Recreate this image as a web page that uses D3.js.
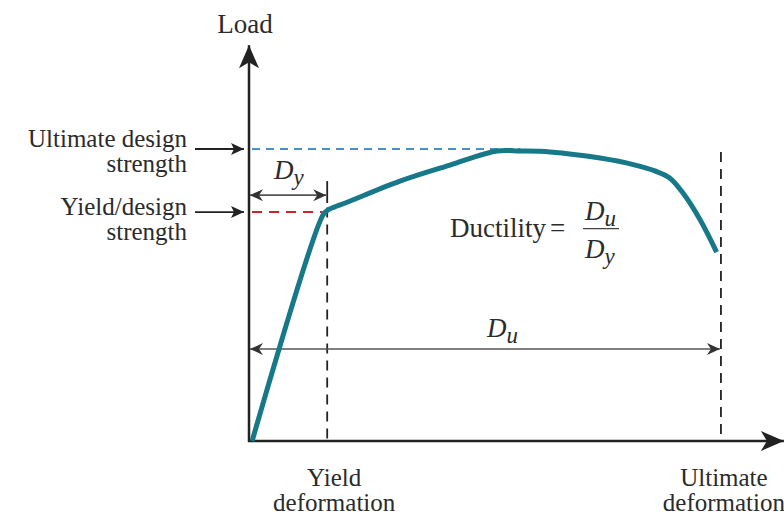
<!DOCTYPE html>
<html>
<head>
<meta charset="utf-8">
<script src="https://cdn.jsdelivr.net/npm/d3@7"></script>
<style>
  body { margin: 0; background: #fff; }
  text { font-family: "Liberation Serif", "DejaVu Serif", serif; fill: #2b2b2b; }
</style>
</head>
<body>
<div id="plot"></div>
<script>
let svgWidth = 784;
let svgHeight = 518;

// load–deformation curve
// deformation in units of yield deformation, load in units of ultimate strength
let deformation = [0.04, 0.946, 1.01, 1.09, 1.23, 1.93, 2.57, 3.17, 3.47, 3.85, 4.49, 4.94, 5.19, 5.38, 5.55, 5.77, 5.98];
let load        = [0,    0.774, 0.791, 0.801, 0.815, 0.890, 0.945, 0.993, 0.993, 0.990, 0.969, 0.945, 0.925, 0.901, 0.849, 0.757, 0.647];

// reference levels
let yieldDeformation = 1.0;
let ultimateDeformation = 6.035;
let yieldLoad = 0.784;
let ultimateLoad = 1.0;
let axisEnds = { x: 6.84, y: 1.355 };

// labels
let yLabels = [["Ultimate design", "strength"], ["Yield/design", "strength"]];
let xLabels = [["Yield", "deformation"], ["Ultimate", "deformation"]];

let curve = deformation.map((d, i) => ({ def: d, load: load[i] }));

let x = d3.scaleLinear().domain([0, 1]).range([249, 327.2]);
let y = d3.scaleLinear().domain([0, 1]).range([441, 149]);

let svg = d3.select('#plot')
  .append('svg')
    .attr('width', svgWidth)
    .attr('height', svgHeight);

let defs = svg.append('defs');

// big axis arrowhead
defs.append('marker')
    .attr('id', 'axisHead')
    .attr('markerUnits', 'userSpaceOnUse')
    .attr('viewBox', '-24 -11 26 22')
    .attr('markerWidth', 26).attr('markerHeight', 22)
    .attr('refX', 0).attr('refY', 0)
    .attr('orient', 'auto')
  .append('path')
    .attr('d', 'M0,0L-23,-10L-17,0L-23,10Z')
    .attr('fill', '#222');

// pointer arrowhead for the strength labels
defs.append('marker')
    .attr('id', 'pointHead')
    .attr('markerUnits', 'userSpaceOnUse')
    .attr('viewBox', '-14 -7 15 14')
    .attr('markerWidth', 15).attr('markerHeight', 14)
    .attr('refX', 0).attr('refY', 0)
    .attr('orient', 'auto')
  .append('path')
    .attr('d', 'M0,0L-13,-6L-10,0L-13,6Z')
    .attr('fill', '#222');

// dimension arrowheads (both ends)
defs.append('marker')
    .attr('id', 'dimHead')
    .attr('markerUnits', 'userSpaceOnUse')
    .attr('viewBox', '-14 -7 15 14')
    .attr('markerWidth', 15).attr('markerHeight', 14)
    .attr('refX', 0).attr('refY', 0)
    .attr('orient', 'auto-start-reverse')
  .append('path')
    .attr('d', 'M0,0L-13,-6L-9,0L-13,6Z')
    .attr('fill', '#333');

// reference dashed lines
svg.append('line')
    .attr('x1', x(0) + 3).attr('x2', x(3.47))
    .attr('y1', y(ultimateLoad)).attr('y2', y(ultimateLoad))
    .attr('stroke', '#4592c8').attr('stroke-width', 2)
    .attr('stroke-dasharray', '8,6');

svg.append('line')
    .attr('x1', x(0) + 3).attr('x2', x(0.94))
    .attr('y1', y(yieldLoad)).attr('y2', y(yieldLoad))
    .attr('stroke', '#c9252f').attr('stroke-width', 2)
    .attr('stroke-dasharray', '10,7');

// yield deformation: short solid tick on top, dashed below
svg.append('line')
    .attr('x1', x(yieldDeformation)).attr('x2', x(yieldDeformation))
    .attr('y1', y(0.89)).attr('y2', y(0.815))
    .attr('stroke', '#222').attr('stroke-width', 1.8);

svg.append('line')
    .attr('x1', x(yieldDeformation)).attr('x2', x(yieldDeformation))
    .attr('y1', y(0.80)).attr('y2', y(0))
    .attr('stroke', '#222').attr('stroke-width', 1.8)
    .attr('stroke-dasharray', '10,7');

svg.append('line')
    .attr('x1', x(ultimateDeformation)).attr('x2', x(ultimateDeformation))
    .attr('y1', y(0.99)).attr('y2', y(0))
    .attr('stroke', '#222').attr('stroke-width', 1.8)
    .attr('stroke-dasharray', '10,7');

// axes
svg.append('line')
    .attr('x1', x(0)).attr('x2', x(0))
    .attr('y1', y(0) + 1).attr('y2', y(axisEnds.y))
    .attr('stroke', '#222').attr('stroke-width', 2.5)
    .attr('marker-end', 'url(#axisHead)');

svg.append('line')
    .attr('x1', x(0) - 1).attr('x2', x(axisEnds.x))
    .attr('y1', y(0)).attr('y2', y(0))
    .attr('stroke', '#222').attr('stroke-width', 2.5)
    .attr('marker-end', 'url(#axisHead)');

// dimension arrows Dy and Du
let dims = [
  { to: yieldDeformation, at: 0.842 },
  { to: ultimateDeformation, at: 0.315 }
];
svg.selectAll('.dim')
  .data(dims)
  .join('line')
    .attr('class', 'dim')
    .attr('x1', x(0) + 1).attr('x2', d => x(d.to) - 1)
    .attr('y1', d => y(d.at)).attr('y2', d => y(d.at))
    .attr('stroke', '#555').attr('stroke-width', 1.6)
    .attr('marker-start', 'url(#dimHead)')
    .attr('marker-end', 'url(#dimHead)');

// the curve
let lineGen = d3.line()
    .x(d => x(d.def))
    .y(d => y(d.load))
    .curve(d3.curveCatmullRom.alpha(0.5));

svg.append('path')
    .datum(curve)
    .attr('d', lineGen)
    .attr('fill', 'none')
    .attr('stroke', '#17788a')
    .attr('stroke-width', 5)
    .attr('stroke-linejoin', 'round');

// strength labels with pointer arrows
let levels = [ultimateLoad, yieldLoad];
let labelShift = [-2, 3];
levels.forEach(function(lv, i) {
  svg.append('line')
      .attr('x1', x(0) - 54).attr('x2', x(0) - 5)
      .attr('y1', y(lv)).attr('y2', y(lv))
      .attr('stroke', '#222').attr('stroke-width', 1.8)
      .attr('marker-end', 'url(#pointHead)');
  let t = svg.append('text')
      .attr('text-anchor', 'end')
      .attr('font-size', 25);
  t.append('tspan').attr('x', x(0) - 62).attr('y', y(lv) + labelShift[i]).text(yLabels[i][0]);
  t.append('tspan').attr('x', x(0) - 62).attr('y', y(lv) + labelShift[i] + 25).text(yLabels[i][1]);
});

// deformation labels under the axis
[yieldDeformation, ultimateDeformation].forEach(function(dv, i) {
  let t = svg.append('text')
      .attr('text-anchor', 'middle')
      .attr('font-size', 25);
  t.append('tspan').attr('x', x(dv) + 7 - i * 4).attr('y', 486).text(xLabels[i][0]);
  t.append('tspan').attr('x', x(dv) + 7 - i * 4).attr('y', 511).text(xLabels[i][1]);
});

// axis title
svg.append('text')
    .attr('x', x(0) - 4).attr('y', 33)
    .attr('text-anchor', 'middle')
    .attr('font-size', 27)
    .text('Load');

// D labels
function dLabel(px, py, sub, size) {
  let t = svg.append('text')
      .attr('x', px).attr('y', py)
      .attr('font-size', size)
      .attr('font-style', 'italic');
  t.append('tspan').text('D');
  t.append('tspan').attr('dy', size * 0.22).attr('font-size', size * 0.85).text(sub);
  return t;
}
dLabel(x(0) + 25, y(0.897), 'y', 27);
dLabel((x(0) + x(ultimateDeformation)) / 2 + 2, y(0.356), 'u', 27);

// ductility formula
svg.append('text')
    .attr('x', 450).attr('y', y(0.699))
    .attr('font-size', 27)
    .text('Ductility');

svg.append('text')
    .attr('x', 550).attr('y', y(0.699))
    .attr('font-size', 27)
    .text('=');

svg.append('line')
    .attr('x1', 583).attr('x2', 619)
    .attr('y1', y(0.727)).attr('y2', y(0.727))
    .attr('stroke', '#444').attr('stroke-width', 1.3);

dLabel(585, y(0.757), 'u', 27);
dLabel(585, y(0.627), 'y', 27);
</script>
</body>
</html>
